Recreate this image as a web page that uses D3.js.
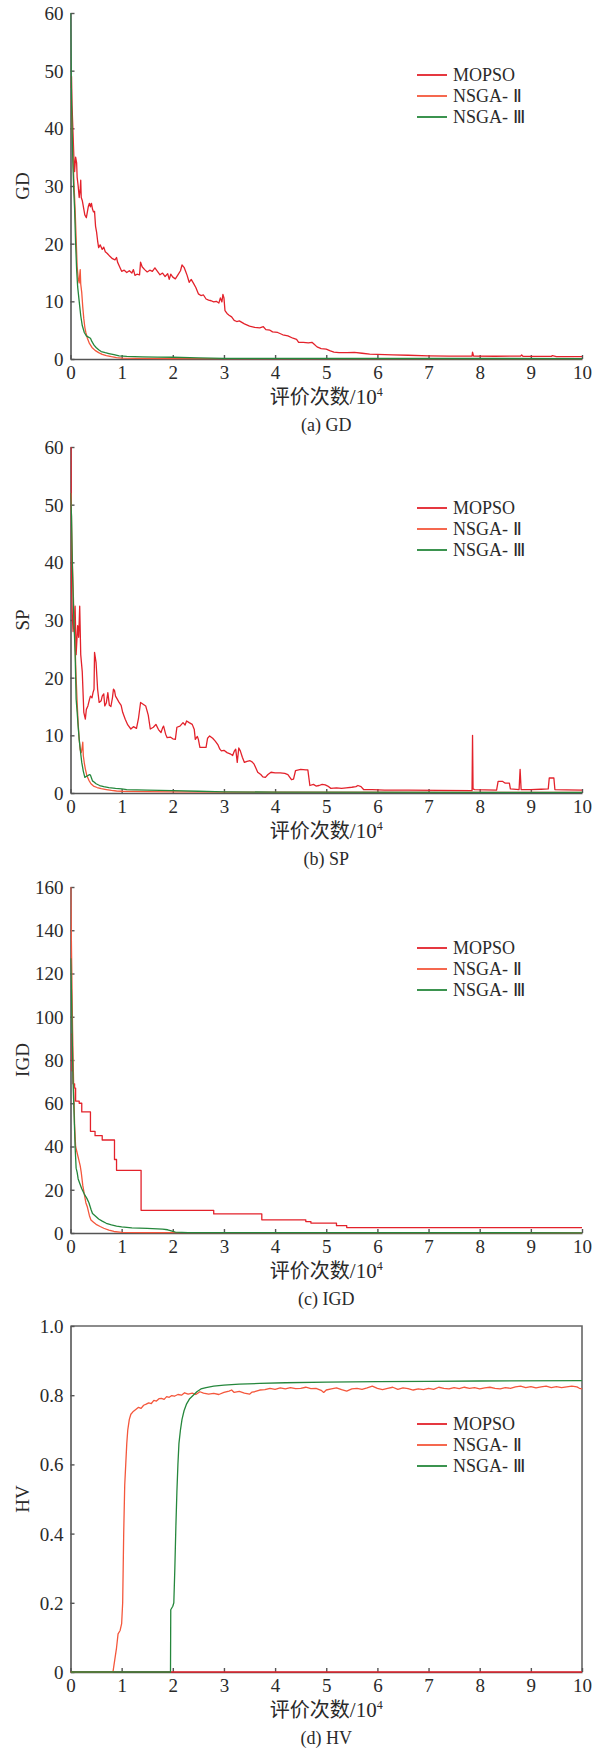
<!DOCTYPE html>
<html>
<head>
<meta charset="utf-8">
<script src="https://cdn.jsdelivr.net/npm/d3@7"></script>
<style>
  body { margin: 0; background: #fff; }
  svg text { font-family: "Liberation Serif", "Times New Roman", serif; fill: #2a2a2a; }
</style>
</head>
<body>
<svg id="chart" width="603" height="1750"></svg>
<script>
// ---- shared axis values ----
const xTicks = [0, 1, 2, 3, 4, 5, 6, 7, 8, 9, 10];
const seriesNames = ["MOPSO", "NSGA- Ⅱ", "NSGA- Ⅲ"];
const gdTicks = [0, 10, 20, 30, 40, 50, 60];
const spTicks = [0, 10, 20, 30, 40, 50, 60];
const igdTicks = [0, 20, 40, 60, 80, 100, 120, 140, 160];
const hvTicks = [0, 0.2, 0.4, 0.6, 0.8, 1.0];
const hvTickLabels = ["0", "0.2", "0.4", "0.6", "0.8", "1.0"];

// ---- GD (evaluations in 10^4, value) ----
const gdMopso = [[0.01,47],[0.02,49],[0.03,44],[0.05,39],[0.07,34],[0.08,32.5],[0.1,35],[0.12,34],[0.13,31.5],[0.15,30],[0.17,28],[0.19,29.5],[0.2,31],[0.21,28],[0.23,27.5],[0.26,26],[0.28,25],[0.31,24.5],[0.33,25.5],[0.35,26.5],[0.37,27],[0.39,26.4],[0.41,27],[0.43,26],[0.45,25.5],[0.47,25.6],[0.49,23],[0.51,22],[0.53,20.5],[0.55,19.3],[0.58,19.8],[0.62,19],[0.65,19.4],[0.68,18.6],[0.72,18.3],[0.77,17.8],[0.82,17.4],[0.87,17.2],[0.9,17.6],[0.92,16.8],[0.96,16],[1.0,15.2],[1.05,15.4],[1.1,15],[1.15,15.3],[1.2,14.9],[1.23,15.5],[1.26,14.5],[1.3,14.7],[1.35,14.6],[1.37,16.8],[1.4,16],[1.45,15.5],[1.5,15.1],[1.55,15.4],[1.6,15.2],[1.65,15.8],[1.7,15.2],[1.75,14.6],[1.8,14.9],[1.85,14.3],[1.9,14.8],[1.93,13.8],[1.96,14.7],[2.0,14.2],[2.05,13.9],[2.1,14.6],[2.15,15.3],[2.18,16.3],[2.22,15.9],[2.25,15.2],[2.28,14.5],[2.32,13.3],[2.36,13.8],[2.4,13.2],[2.45,12.4],[2.5,11.3],[2.55,11],[2.6,11.1],[2.65,10.4],[2.7,10.2],[2.75,10.1],[2.8,9.9],[2.85,10],[2.9,9.7],[2.93,10.6],[2.96,9.9],[2.98,11.2],[3.0,10.6],[3.02,8.4],[3.06,7.9],[3.1,7.6],[3.15,7.3],[3.2,6.7],[3.25,6.5],[3.3,6.6],[3.4,6.1],[3.5,5.7],[3.6,5.5],[3.7,5.4],[3.77,5.6],[3.82,5.1],[3.9,5.0],[3.95,4.7],[4.05,4.6],[4.15,4.2],[4.25,4.0],[4.35,3.6],[4.42,3.4],[4.46,2.9],[4.55,2.9],[4.65,2.8],[4.72,2.9],[4.77,2.5],[4.82,2.1],[4.9,1.8],[5.0,1.7],[5.08,1.4],[5.15,1.2],[5.25,1.1],[5.4,1.1],[5.55,1.15],[5.7,1.0],[5.85,0.85],[6.0,0.8],[6.3,0.7],[6.6,0.65],[7.0,0.55],[7.4,0.5],[7.85,0.5],[7.86,1.2],[7.88,0.5],[8.3,0.48],[8.8,0.5],[8.82,0.7],[8.85,0.45],[9.4,0.45],[9.42,0.6],[9.5,0.4],[10,0.4]];
const gdNsga2 = [[0.01,45],[0.03,40],[0.05,35],[0.07,30],[0.09,26],[0.11,21],[0.13,16],[0.15,14],[0.17,13.2],[0.18,14.5],[0.19,15.5],[0.2,13],[0.22,11.5],[0.24,9],[0.26,7],[0.28,5.5],[0.3,4.6],[0.33,3.6],[0.37,2.7],[0.42,2.0],[0.48,1.5],[0.55,1.1],[0.62,0.8],[0.7,0.6],[0.8,0.4],[0.9,0.25],[1.0,0.15],[1.3,0.1],[2,0.08],[10,0.05]];
const gdNsga3 = [[0,60],[0.01,52],[0.02,45],[0.035,38],[0.05,33],[0.065,29],[0.08,26],[0.1,20],[0.12,15.5],[0.14,12.5],[0.17,10],[0.2,7.5],[0.23,5.8],[0.27,4.6],[0.31,4.0],[0.35,3.8],[0.39,3.6],[0.42,3.0],[0.46,2.4],[0.5,2.0],[0.55,1.6],[0.6,1.3],[0.68,1.1],[0.75,0.95],[0.85,0.75],[0.95,0.55],[1.1,0.45],[1.4,0.38],[1.7,0.33],[2.0,0.3],[2.5,0.2],[3,0.12],[10,0.08]];

// ---- SP ----
const spMopso = [[0.01,60],[0.02,36],[0.035,31],[0.05,28],[0.07,30],[0.09,32.4],[0.11,24],[0.14,29],[0.16,27],[0.18,32.4],[0.2,24],[0.23,21],[0.26,14],[0.29,12.8],[0.31,14.5],[0.34,15.1],[0.37,16.2],[0.39,16.8],[0.42,16.5],[0.44,17.4],[0.46,18],[0.47,24.4],[0.5,22.6],[0.53,18],[0.56,15.7],[0.6,16],[0.62,16.8],[0.65,17.2],[0.67,15.1],[0.7,15.6],[0.73,17.4],[0.76,15.2],[0.79,15],[0.82,16.5],[0.84,18],[0.86,17.8],[0.88,16.8],[0.92,16.2],[0.95,15.7],[0.99,15.2],[1.02,14],[1.07,12.8],[1.12,11.8],[1.18,11.1],[1.23,11.5],[1.29,11.2],[1.33,13],[1.37,15.7],[1.42,15.4],[1.47,15.1],[1.52,13.5],[1.56,11.1],[1.62,11.4],[1.67,11.9],[1.72,11],[1.77,10.5],[1.8,11.3],[1.82,11.6],[1.86,10.2],[1.89,9.6],[1.95,9.7],[2.0,9.4],[2.05,9.3],[2.08,11.4],[2.14,11.6],[2.2,12.2],[2.24,11.8],[2.27,12.5],[2.32,12.2],[2.38,11.9],[2.42,11],[2.44,9.3],[2.48,9.8],[2.5,9.3],[2.53,7.9],[2.6,7.9],[2.65,7.9],[2.68,9.5],[2.72,9.9],[2.78,9.5],[2.83,9],[2.88,8.4],[2.92,7.6],[2.95,7.3],[3.0,7.4],[3.06,7],[3.12,6.8],[3.17,6.5],[3.2,7.2],[3.23,7.6],[3.26,5.3],[3.29,7.8],[3.32,7.3],[3.36,6.2],[3.4,5.3],[3.45,5.5],[3.51,5.6],[3.55,5.4],[3.59,5],[3.63,4.2],[3.66,3.6],[3.72,3.2],[3.76,2.8],[3.81,2.7],[3.86,3.2],[3.92,3.6],[4.0,3.5],[4.1,3.5],[4.19,3.4],[4.25,3.2],[4.32,2.3],[4.36,2.4],[4.4,3.9],[4.5,4.1],[4.6,4.0],[4.64,4.0],[4.68,1.3],[4.75,1.5],[4.8,1.2],[4.86,1.3],[4.92,1.5],[4.98,1.4],[5.03,1.2],[5.09,0.8],[5.2,0.9],[5.3,0.8],[5.39,0.9],[5.5,1.0],[5.58,1.1],[5.62,1.3],[5.68,1.1],[5.73,0.6],[5.9,0.6],[6.14,0.5],[6.6,0.5],[7.2,0.45],[7.85,0.4],[7.86,10],[7.87,0.7],[7.9,0.6],[8.1,0.55],[8.33,0.5],[8.36,2.0],[8.45,2.0],[8.5,1.7],[8.58,1.7],[8.6,0.7],[8.77,0.6],[8.79,4.1],[8.81,0.6],[9.0,0.6],[9.2,0.65],[9.34,0.7],[9.36,2.6],[9.45,2.6],[9.47,0.6],[9.7,0.55],[10,0.5]];
const spNsga2 = [[0.01,52],[0.03,42],[0.05,36],[0.07,30],[0.09,25.5],[0.11,20],[0.13,15.7],[0.15,12],[0.17,9.3],[0.19,7.5],[0.21,7],[0.23,8],[0.24,8.8],[0.25,6.5],[0.27,5.2],[0.29,4.2],[0.32,3],[0.36,2.2],[0.4,1.6],[0.45,1.2],[0.52,0.95],[0.6,0.75],[0.7,0.6],[0.8,0.45],[0.9,0.35],[1.0,0.3],[1.5,0.25],[2,0.2],[3,0.15],[10,0.1]];
const spNsga3 = [[0,52],[0.01,50],[0.02,48],[0.035,40],[0.05,34.7],[0.07,29],[0.09,24.4],[0.11,16.3],[0.13,14],[0.15,11.5],[0.17,9.3],[0.2,6.8],[0.22,5.3],[0.25,3.8],[0.28,2.7],[0.31,2.9],[0.34,3.0],[0.37,3.2],[0.39,3.1],[0.41,2.6],[0.43,2.1],[0.46,1.9],[0.5,1.6],[0.57,1.3],[0.65,1.1],[0.75,0.95],[0.88,0.8],[1.0,0.7],[1.1,0.6],[1.5,0.5],[2.0,0.4],[2.5,0.3],[3.0,0.2],[4,0.15],[10,0.1]];

// ---- IGD ----
const igdMopso = [[0.01,92],[0.03,75],[0.05,69],[0.08,67],[0.1,61],[0.17,60],[0.22,56],[0.39,47],[0.48,45],[0.62,43],[0.86,34],[0.9,29],[1.38,10.5],[2.8,8.8],[3.74,6.1],[4.6,5.3],[4.7,4.6],[5.2,3.4],[5.4,2.5],[10,2.5]];
const igdNsga2 = [[0.005,160],[0.02,130],[0.04,95],[0.06,70],[0.08,50],[0.1,40],[0.13,37],[0.16,34],[0.19,31],[0.21,28],[0.24,22],[0.27,18],[0.3,14],[0.33,12],[0.37,8],[0.4,6],[0.45,5],[0.5,4],[0.58,3],[0.65,2.2],[0.75,1.3],[0.85,0.7],[1.0,0.3],[1.5,0.15],[10,0.1]];
const igdNsga3 = [[0.005,127],[0.02,110],[0.03,95],[0.05,70],[0.07,55],[0.09,40],[0.11,30],[0.13,28],[0.15,25],[0.18,23],[0.22,20.5],[0.27,18],[0.32,16],[0.36,14],[0.4,11],[0.43,9],[0.48,8],[0.55,6.5],[0.62,5.5],[0.7,4.5],[0.8,3.8],[0.9,3.2],[1.0,2.8],[1.2,2.4],[1.5,2.1],[1.8,1.8],[1.9,1.5],[1.97,1.0],[2.05,0.4],[2.3,0.2],[3,0.15],[10,0.1]];

// ---- HV ----
const hvMopso = [[0,0],[10,0]];
const hvNsga2 = [[0,0],[0.83,0],[0.86,0.03],[0.9,0.07],[0.93,0.11],[0.97,0.12],[1.0,0.14],[1.02,0.2],[1.03,0.3],[1.04,0.4],[1.05,0.47],[1.06,0.54],[1.08,0.6],[1.1,0.66],[1.12,0.7],[1.15,0.73],[1.18,0.745],[1.22,0.752],[1.27,0.758],[1.33,0.765],[1.38,0.762],[1.43,0.771],[1.48,0.774],[1.53,0.778],[1.58,0.776],[1.63,0.785],[1.68,0.783],[1.73,0.79],[1.78,0.791],[1.83,0.788],[1.88,0.796],[1.93,0.794],[1.98,0.799],[2.03,0.797],[2.1,0.802],[2.17,0.8],[2.23,0.807],[2.3,0.803],[2.38,0.806],[2.45,0.802],[2.53,0.81],[2.6,0.806],[2.7,0.803],[2.8,0.805],[2.9,0.802],[3.0,0.808],[3.1,0.812],[3.15,0.815],[3.2,0.808],[3.3,0.811],[3.4,0.806],[3.5,0.803],[3.55,0.809],[3.6,0.81],[3.7,0.815],[3.8,0.816],[3.9,0.82],[4.0,0.817],[4.1,0.821],[4.2,0.818],[4.3,0.822],[4.4,0.819],[4.5,0.82],[4.6,0.823],[4.7,0.819],[4.8,0.82],[4.9,0.814],[4.95,0.808],[5.0,0.815],[5.1,0.818],[5.2,0.821],[5.3,0.816],[5.4,0.812],[5.5,0.818],[5.6,0.82],[5.7,0.817],[5.8,0.821],[5.9,0.826],[6.0,0.82],[6.1,0.816],[6.2,0.82],[6.3,0.823],[6.4,0.817],[6.5,0.821],[6.6,0.819],[6.7,0.815],[6.8,0.818],[6.9,0.816],[7.0,0.82],[7.1,0.817],[7.2,0.823],[7.3,0.82],[7.4,0.818],[7.5,0.822],[7.6,0.819],[7.7,0.823],[7.8,0.82],[7.9,0.822],[8.0,0.818],[8.1,0.821],[8.2,0.823],[8.3,0.82],[8.4,0.818],[8.5,0.822],[8.6,0.82],[8.7,0.824],[8.8,0.826],[8.9,0.822],[9.0,0.825],[9.1,0.821],[9.2,0.824],[9.3,0.826],[9.4,0.822],[9.5,0.825],[9.6,0.822],[9.7,0.824],[9.8,0.826],[9.9,0.824],[9.95,0.82],[10,0.818]];
const hvNsga3 = [[0,0],[1.955,0],[1.96,0.18],[1.98,0.185],[2.0,0.19],[2.02,0.2],[2.04,0.3],[2.06,0.42],[2.08,0.52],[2.1,0.6],[2.12,0.66],[2.15,0.7],[2.18,0.73],[2.22,0.755],[2.27,0.775],[2.33,0.79],[2.4,0.8],[2.47,0.81],[2.55,0.818],[2.65,0.822],[2.8,0.826],[3.0,0.829],[3.3,0.832],[3.7,0.834],[4.2,0.836],[5,0.838],[6,0.839],[7,0.84],[8,0.841],[10,0.842]];

// ---- layout & style ----
const colors = ["#e3222b", "#f4573c", "#25873c"];
const left = 70.5, right = 582, plotH = 346;
const axisColor = "#555";
const serif = '"Liberation Serif", "Times New Roman", serif';
const cjk = '"Noto Sans CJK SC", sans-serif';

const panels = [
  { top: 13,   yMax: 60,  ticks: gdTicks,  labels: null,         title: "GD",  caption: "(a) GD",  data: [gdMopso, gdNsga2, gdNsga3],    legendY: 75,  box: false, step: false },
  { top: 447,  yMax: 60,  ticks: spTicks,  labels: null,         title: "SP",  caption: "(b) SP",  data: [spMopso, spNsga2, spNsga3],    legendY: 508, box: false, step: false },
  { top: 887,  yMax: 160, ticks: igdTicks, labels: null,         title: "IGD", caption: "(c) IGD", data: [igdMopso, igdNsga2, igdNsga3], legendY: 948, box: false, step: true },
  { top: 1326, yMax: 1.0, ticks: hvTicks,  labels: hvTickLabels, title: "HV",  caption: "(d) HV",  data: [hvMopso, hvNsga2, hvNsga3],    legendY: 1424, box: true, step: false }
];

const svg = d3.select("#chart");
const x = d3.scaleLinear().domain([0, 10]).range([left, right]);

panels.forEach(p => {
  const bottom = p.top + plotH;
  const y = d3.scaleLinear().domain([0, p.yMax]).range([bottom, p.top]);
  const g = svg.append("g");

  // frame for the HV panel
  if (p.box) {
    g.append("path")
      .attr("fill", "none")
      .attr("stroke", "#666")
      .attr("stroke-width", 1.6)
      .attr("d", `M${left},${p.top}H${right}V${bottom}`);
  }

  // axes with inward ticks
  const yAxis = d3.axisLeft(y).tickValues(p.ticks).tickSizeInner(-4).tickSizeOuter(0).tickPadding(7);
  if (p.labels) yAxis.tickFormat((d, i) => p.labels[i]);
  else yAxis.tickFormat(d3.format("d"));
  const ya = g.append("g").attr("transform", `translate(${left},0)`).call(yAxis);

  const xAxis = d3.axisBottom(x).tickValues(xTicks).tickSizeInner(-4).tickSizeOuter(0).tickPadding(6).tickFormat(d3.format("d"));
  const xa = g.append("g").attr("transform", `translate(0,${bottom})`).call(xAxis);

  [ya, xa].forEach(a => {
    a.select(".domain").attr("stroke", axisColor).attr("stroke-width", 1.6);
    a.selectAll(".tick line").attr("stroke", axisColor).attr("stroke-width", 1.4);
    a.selectAll(".tick text")
      .attr("fill", "#2a2a2a")
      .style("font-family", serif)
      .style("font-size", "19px");
  });
  xa.selectAll(".tick text").attr("dy", "0.72em");
  ya.selectAll(".tick text").attr("dy", "0.34em");

  // series lines (clipped to the plot area), drawn over the axes
  const clipId = "clip-" + p.title;
  svg.append("clipPath").attr("id", clipId)
    .append("rect").attr("x", left).attr("y", p.top - 1).attr("width", right - left + 1).attr("height", plotH + 2);

  p.data.forEach((series, i) => {
    const gen = d3.line().x(d => x(d[0])).y(d => y(d[1]));
    if (p.step && i === 0) gen.curve(d3.curveStepAfter);
    g.append("path")
      .datum(series)
      .attr("clip-path", `url(#${clipId})`)
      .attr("fill", "none")
      .attr("stroke", colors[i])
      .attr("stroke-width", 1.3)
      .attr("stroke-linejoin", "round")
      .attr("d", gen);
  });

  // y-axis title
  g.append("text")
    .attr("transform", `translate(29,${(p.top + bottom) / 2}) rotate(-90)`)
    .attr("text-anchor", "middle")
    .style("font-size", "19px")
    .text(p.title);

  // x-axis title with superscript
  const xt = g.append("text")
    .attr("x", (left + right) / 2)
    .attr("y", bottom + 45)
    .attr("text-anchor", "middle")
    .style("font-size", "21px");
  xt.append("tspan").style("font-family", cjk).style("font-size", "20px").text("评价次数");
  xt.append("tspan").text("/10");
  xt.append("tspan").attr("dy", -8).style("font-size", "12px").text("4");

  // caption
  g.append("text")
    .attr("x", (left + right) / 2)
    .attr("y", bottom + 72)
    .attr("text-anchor", "middle")
    .style("font-size", "18px")
    .text(p.caption);

  // legend
  const lg = g.append("g");
  seriesNames.forEach((name, i) => {
    const ly = p.legendY + i * 21;
    lg.append("line")
      .attr("x1", 417).attr("x2", 447)
      .attr("y1", ly).attr("y2", ly)
      .attr("stroke", colors[i]).attr("stroke-width", 1.8);
    lg.append("text")
      .attr("x", 453).attr("y", ly)
      .attr("dy", "0.35em")
      .style("font-size", "18px")
      .text(name);
  });
});
</script>
</body>
</html>
